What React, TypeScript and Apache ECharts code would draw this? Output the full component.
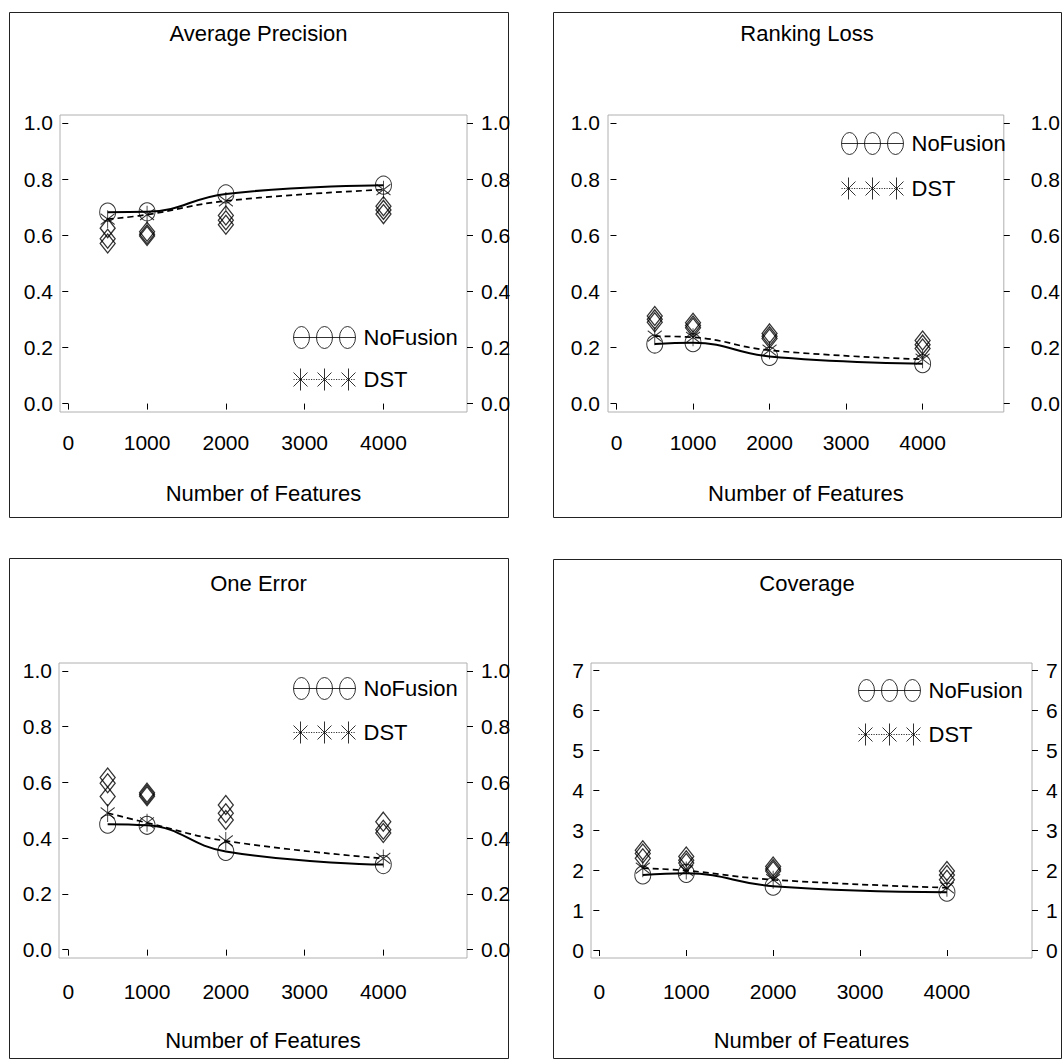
import React, { useEffect, useRef } from "react";
import * as echarts from "echarts";

// ---------------- data ----------------
const features = [500, 1000, 2000, 4000];
const xTicks = [0, 1000, 2000, 3000, 4000];
const unitTicks = [0, 0.2, 0.4, 0.6, 0.8, 1.0];
const coverageTicks = [0, 1, 2, 3, 4, 5, 6, 7];
const panelTitles = ["Average Precision", "Ranking Loss", "One Error", "Coverage"];
const xAxisTitle = "Number of Features";
const legendNames = ["NoFusion", "DST"];
const otherNames = ["Method A", "Method B", "Method C"];

const apNoFusion = [0.682, 0.683, 0.747, 0.778];
const apDST = [0.657, 0.673, 0.722, 0.762];
const apOtherA = [0.625, 0.612, 0.670, 0.703];
const apOtherB = [0.587, 0.603, 0.653, 0.690];
const apOtherC = [0.570, 0.597, 0.637, 0.675];

const rlNoFusion = [0.212, 0.217, 0.168, 0.142];
const rlDST = [0.240, 0.236, 0.190, 0.158];
const rlOtherA = [0.312, 0.288, 0.250, 0.225];
const rlOtherB = [0.300, 0.278, 0.240, 0.210];
const rlOtherC = [0.290, 0.270, 0.232, 0.196];

const oeNoFusion = [0.450, 0.446, 0.352, 0.305];
const oeDST = [0.490, 0.455, 0.390, 0.327];
const oeOtherA = [0.617, 0.563, 0.519, 0.459];
const oeOtherB = [0.597, 0.556, 0.489, 0.430];
const oeOtherC = [0.549, 0.550, 0.465, 0.418];

const covNoFusion = [1.88, 1.92, 1.60, 1.45];
const covDST = [2.05, 1.99, 1.76, 1.56];
const covOtherA = [2.50, 2.34, 2.09, 1.98];
const covOtherB = [2.42, 2.25, 2.03, 1.88];
const covOtherC = [2.30, 2.18, 1.98, 1.76];

// ---------------- layout ----------------
const FONT = "'Liberation Sans', Arial, sans-serif";
const TITLE_SIZE = 22;
const LABEL_SIZE = 21;
const LEGEND_SIZE = 22;

const panels = [
  {
    title: panelTitles[0], noFusion: apNoFusion, dst: apDST, others: [apOtherA, apOtherB, apOtherC],
    grid: { left: 60, top: 115, width: 407, height: 297 },
    xMin: -105, xMax: 5060, yMin: -0.03, yMax: 1.028, yTicks: unitTicks, dec: 1,
    frame: [9, 12, 499, 505], titleTop: 22,
    legend: { left: 293, top: 326, gap: 19 },
    leftMargin: 7, rightMargin: 14, xMargin: 20, nameGap: 70,
  },
  {
    title: panelTitles[1], noFusion: rlNoFusion, dst: rlDST, others: [rlOtherA, rlOtherB, rlOtherC],
    grid: { left: 608, top: 115, width: 405, height: 297 },
    xMin: -111, xMax: 5061, yMin: -0.03, yMax: 1.028, yTicks: unitTicks, dec: 1,
    frame: [553, 12, 508, 505], titleTop: 22,
    legend: { left: 841, top: 132, gap: 22 },
    leftMargin: 8, rightMargin: 27, xMargin: 20, nameGap: 70,
  },
  {
    title: panelTitles[2], noFusion: oeNoFusion, dst: oeDST, others: [oeOtherA, oeOtherB, oeOtherC],
    grid: { left: 59, top: 663, width: 408, height: 295 },
    xMin: -118, xMax: 5063, yMin: -0.03, yMax: 1.028, yTicks: unitTicks, dec: 1,
    frame: [9, 558, 499, 500], titleTop: 572,
    legend: { left: 293, top: 677, gap: 21 },
    leftMargin: 7, rightMargin: 14, xMargin: 23, nameGap: 71,
  },
  {
    title: panelTitles[3], noFusion: covNoFusion, dst: covDST, others: [covOtherA, covOtherB, covOtherC],
    grid: { left: 591, top: 663, width: 441, height: 295 },
    xMin: -96, xMax: 4979, yMin: -0.2, yMax: 7.19, yTicks: coverageTicks, dec: 0,
    frame: [553, 559, 508, 499], titleTop: 572,
    legend: { left: 858, top: 679, gap: 21 },
    leftMargin: 7, rightMargin: 14, xMargin: 23, nameGap: 71,
  },
];

const starSymbol = "path://M7,0 L7,20 M0,4 L14,16 M0,16 L14,4";

function ellipse(cx: number) {
  return `M${cx + 8},11 A8,11 0 1,1 ${cx - 8},11 A8,11 0 1,1 ${cx + 8},11 `;
}
const circleLegendIcon =
  "path://M0,11 L62,11 " + ellipse(8) + ellipse(31) + ellipse(54);

function asterisk(cx: number) {
  return `M${cx},0 L${cx},22 M${cx - 7},4 L${cx + 7},18 M${cx - 7},18 L${cx + 7},4 `;
}
function dots(x0: number, x1: number) {
  let s = "";
  for (let x = x0; x < x1; x += 2.5) s += `M${x},11 L${x + 1.2},11 `;
  return s;
}
const starLegendIcon =
  "path://" + asterisk(7) + asterisk(31) + asterisk(55) + dots(0, 62);

const hollow = { color: "rgba(0,0,0,0)", borderColor: "#000", borderWidth: 1 };

function buildOption() {
  const grid: any[] = [];
  const xAxis: any[] = [];
  const yAxis: any[] = [];
  const series: any[] = [];
  const title: any[] = [];
  const legend: any[] = [];
  const graphic: any[] = [];

  panels.forEach((p, i) => {
    grid.push({ ...p.grid, show: true, borderColor: "#b0b0b0", borderWidth: 1, backgroundColor: "transparent", containLabel: false });
    xAxis.push({
      type: "value", gridIndex: i, min: p.xMin, max: p.xMax,
      name: xAxisTitle, nameLocation: "middle", nameGap: p.nameGap,
      nameTextStyle: { fontSize: TITLE_SIZE, color: "#000", fontFamily: FONT },
      axisLine: { show: false },
      axisTick: { show: true, length: 6, customValues: xTicks, lineStyle: { color: "#000", width: 1 } },
      axisLabel: {
        customValues: xTicks, margin: p.xMargin, fontSize: LABEL_SIZE, color: "#000", fontFamily: FONT,
        formatter: (v: number) => String(Math.round(v)),
      },
      splitLine: { show: false },
    });
    const yBase = {
      type: "value", gridIndex: i, min: p.yMin, max: p.yMax,
      axisLine: { show: false },
      splitLine: { show: false },
    };
    const fmt = (v: number) => v.toFixed(p.dec);
    yAxis.push({
      ...yBase, position: "left",
      axisTick: { show: true, length: 6, customValues: p.yTicks, lineStyle: { color: "#000", width: 1 } },
      axisLabel: { customValues: p.yTicks, formatter: fmt, margin: p.leftMargin, fontSize: LABEL_SIZE, color: "#000", fontFamily: FONT },
    });
    yAxis.push({
      ...yBase, position: "right",
      axisTick: { show: true, length: 6, customValues: p.yTicks, lineStyle: { color: "#000", width: 1 } },
      axisLabel: { customValues: p.yTicks, formatter: fmt, margin: p.rightMargin, fontSize: LABEL_SIZE, color: "#000", fontFamily: FONT },
    });

    const toPts = (vals: number[]) => features.map((x, j) => [x, vals[j]]);
    const yIdx = i * 2;

    series.push({
      type: "line", name: "NoFusion fit", xAxisIndex: i, yAxisIndex: yIdx,
      data: toPts(p.noFusion), smooth: 0.45, showSymbol: false, symbol: "none",
      lineStyle: { color: "#000", width: 2, type: "solid" }, z: 2, silent: true,
    });
    series.push({
      type: "line", name: "DST fit", xAxisIndex: i, yAxisIndex: yIdx,
      data: toPts(p.dst), smooth: 0.45, showSymbol: false, symbol: "none",
      lineStyle: { color: "#000", width: 1.7, type: [6, 4] }, z: 2, silent: true,
    });
    p.others.forEach((vals, k) => {
      series.push({
        type: "scatter", name: otherNames[k], xAxisIndex: i, yAxisIndex: yIdx,
        data: toPts(vals), symbol: "diamond", symbolSize: [15, 19],
        itemStyle: { ...hollow, borderWidth: 1.3 }, z: 3,
      });
    });
    series.push({
      type: "scatter", name: legendNames[1], xAxisIndex: i, yAxisIndex: yIdx,
      data: toPts(p.dst), symbol: starSymbol, symbolSize: [14, 18],
      itemStyle: hollow, z: 4,
    });
    series.push({
      type: "scatter", name: legendNames[0], xAxisIndex: i, yAxisIndex: yIdx,
      data: toPts(p.noFusion), symbol: "circle", symbolSize: [16, 18],
      itemStyle: hollow, z: 4,
    });

    const [fx, fy, fw, fh] = p.frame;
    title.push({
      text: p.title, left: fx + fw / 2, top: p.titleTop, textAlign: "center", padding: 0,
      textStyle: { fontSize: TITLE_SIZE, fontWeight: "normal", color: "#000", fontFamily: FONT },
    });
    legend.push({
      orient: "vertical", left: p.legend.left, top: p.legend.top, itemGap: p.legend.gap,
      itemWidth: 62, itemHeight: 22, padding: 0, selectedMode: false,
      data: [
        { name: legendNames[0], icon: circleLegendIcon },
        { name: legendNames[1], icon: starLegendIcon },
      ],
      itemStyle: { color: "rgba(0,0,0,0)", borderColor: "#000", borderWidth: 1 },
      textStyle: { fontSize: LEGEND_SIZE, color: "#000", fontFamily: FONT, padding: [0, 0, 0, 3] },
    });
    graphic.push({
      type: "rect", silent: true, z: -1,
      shape: { x: fx + 0.5, y: fy + 0.5, width: fw, height: fh },
      style: { fill: "none", stroke: "#222", lineWidth: 1 },
    });
  });

  return {
    animation: false,
    backgroundColor: "#fff",
    title, legend, grid, xAxis, yAxis, series, graphic,
  };
}

export default function App() {
  const ref = useRef<HTMLDivElement>(null);
  useEffect(() => {
    if (!ref.current) return;
    const chart = echarts.init(ref.current, undefined, { renderer: "svg" });
    chart.setOption(buildOption() as any);
    return () => chart.dispose();
  }, []);
  return (
    <div
      ref={ref}
      style={{ position: "fixed", left: 0, top: 0, width: 1063, height: 1061, background: "#fff" }}
    />
  );
}
